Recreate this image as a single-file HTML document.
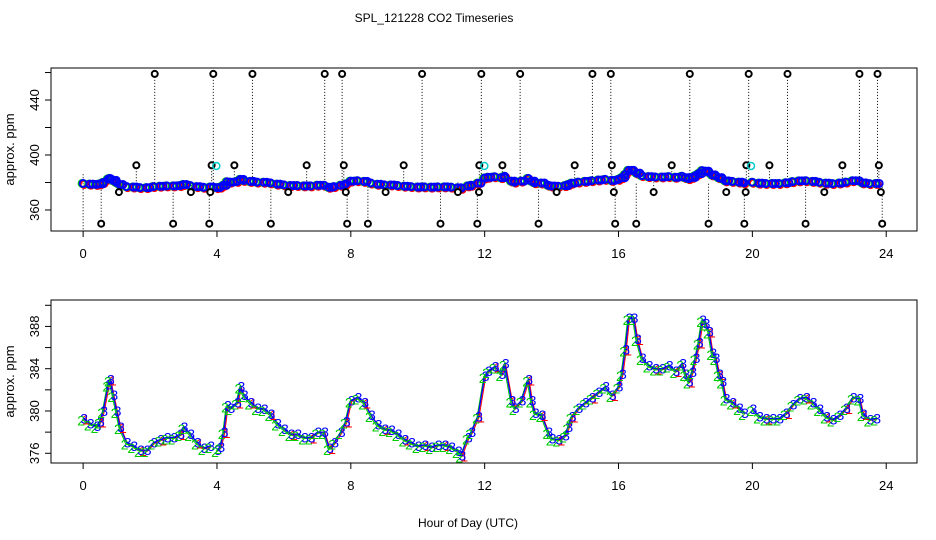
<!DOCTYPE html>
<html><head><meta charset="utf-8"><style>
body{margin:0;background:#fff}
svg{display:block;font-family:"Liberation Sans",Helvetica,Arial,sans-serif}
</style></head><body>
<svg id="c" width="936" height="540" viewBox="0 0 936 540" xmlns="http://www.w3.org/2000/svg">
<text x="434" y="22" font-size="12" text-anchor="middle">SPL_121228  CO2 Timeseries</text>
<text x="468" y="527" font-size="12" text-anchor="middle">Hour of Day (UTC)</text>
<g id="top"></g>
<g id="bot"></g>
</svg>
<script>
const hours=[0,0.2,0.4,0.5,0.6,0.75,0.8,0.9,1.0,1.1,1.3,1.5,1.7,1.9,2.1,2.3,2.5,2.7,2.9,3.0,3.2,3.4,3.6,3.8,null,4.0,4.1,4.2,4.3,4.4,4.6,4.7,4.8,5.0,5.2,5.4,5.6,5.8,6.0,6.2,6.4,6.6,6.8,7.0,7.2,7.35,7.5,7.7,7.85,8.0,8.2,8.4,8.6,8.8,9.0,9.2,9.4,9.6,9.8,10.0,10.2,10.4,10.6,10.8,11.0,11.2,11.3,11.5,11.6,11.8,12.0,12.1,12.3,12.5,12.6,12.8,12.9,13.1,13.3,13.4,13.5,13.7,13.9,14.0,14.2,14.4,14.5,14.6,14.8,15.0,15.2,15.4,15.6,15.8,16.0,16.1,16.2,16.3,16.45,16.55,16.7,16.9,17.1,17.3,17.5,17.7,17.9,18.0,18.1,18.2,18.3,18.4,18.5,18.6,18.7,18.8,18.9,19.0,19.1,19.2,19.4,19.6,19.75,null,20.0,20.2,20.4,20.6,20.8,21.0,21.2,21.4,21.6,21.8,22.0,22.2,22.4,22.6,22.8,23.0,23.2,23.3,23.5,23.7];
const co2=[379.3,378.8,378.6,379.0,380,382.5,383,381.5,380,378.5,377,376.7,376.3,376.3,377,377.3,377.5,377.5,377.8,378.5,377.8,377,376.5,376.7,null,376.3,376.6,378,380.5,380.3,380.8,382.3,381.5,380.8,380.3,380.2,379.7,378.8,378.3,377.8,377.8,377.5,377.5,378,378,376.5,377,378,379,381,381.3,380.8,379.6,378.7,378.3,378.2,377.8,377.3,377,376.7,376.8,376.6,376.8,376.8,376.6,376.2,375.8,377.5,378,379.5,383.3,383.8,384.2,383.5,384.5,381,380.3,381,383,381,379.8,379.6,378,377.4,377.3,377.7,378.5,379.5,380.3,380.8,381.3,381.8,382.3,381.5,382.3,383.5,385.8,388.8,388.8,386.8,385,384.3,384,384,384.3,383.8,384.5,383.5,382.8,383.7,385,386.5,388.6,388.3,387.5,385.5,385,383.5,382.8,381.2,380.8,380.3,379.8,null,380.2,379.5,379.3,379.3,379.3,379.8,380.6,381.2,381.3,380.8,380.2,379.5,379.2,379.6,380.3,381.3,381.2,379.7,379.2,379.3];
const outHighHours=[2.14,3.89,5.06,7.22,7.74,10.13,11.9,13.06,15.22,15.77,18.13,19.89,21.05,23.2,23.74];
const outMidHours=[1.59,3.84,4.52,6.68,7.79,9.58,11.84,12.53,14.69,15.8,17.59,19.82,20.51,22.69,23.78];
const outLowHours=[1.07,3.22,3.8,6.13,7.85,9.04,11.2,11.83,14.15,15.86,17.05,19.22,19.8,22.15,23.84];
const outMinHours=[0.54,2.69,3.77,5.61,7.89,8.51,10.68,11.78,13.61,15.9,16.53,18.69,19.76,21.59,23.88];
const outLevels=[459,392.5,373,350];
const cyanHours=[3.98,11.99,19.96];
const cyanValue=392;
const xTicks=[0,4,8,12,16,20,24];
const topYTicks=[360,380,400,420,440,460];
const topYLabels=[360,400,440];
const botYTicks=[376,378,380,382,384,386,388,390];
const botYLabels=[376,380,384,388];

const NS='http://www.w3.org/2000/svg';
function mk(p,tag,at){const e=document.createElementNS(NS,tag);for(const k in at)e.setAttribute(k,at[k]);p.appendChild(e);return e;}
const L=51,R=917;
const xs=h=>L+(h+0.96)/(24.92+0.96)*(R-L);
function panel(g,top,bot,y0,y1,yt,yl,name){
  const ys=v=>bot-(v-y0)/(y1-y0)*(bot-top);
  const box=mk(g,'rect',{x:L,y:top,width:R-L,height:bot-top,fill:'none',stroke:'#000','stroke-width':1});
  
  mk(g,'line',{x1:xs(0),x2:xs(24),y1:bot,y2:bot,stroke:'#000'});
  xTicks.forEach(t=>{
    mk(g,'line',{x1:xs(t),x2:xs(t),y1:bot,y2:bot+6,stroke:'#000'});
    const tx=mk(g,'text',{x:xs(t),y:bot+27,'font-size':13,'text-anchor':'middle'});tx.textContent=t;
    
  });
  yt.forEach(t=>mk(g,'line',{x1:L-6,x2:L,y1:ys(t),y2:ys(t),stroke:'#000'}));
  yl.forEach(t=>{
    const tx=mk(g,'text',{x:0,y:0,'font-size':13,'text-anchor':'middle',transform:`translate(${L-12},${ys(t)}) rotate(-90)`});tx.textContent=t;
    
  });
  const at=mk(g,'text',{x:0,y:0,'font-size':13,'text-anchor':'middle',transform:`translate(14,${(top+bot)/2}) rotate(-90)`});at.textContent='approx. ppm';
  
  return ys;
}
function pathOf(ys,dx,dy){let d='',pen=false;for(let i=0;i<hours.length;i++){if(hours[i]===null){pen=false;continue;}d+=(pen?'L':'M')+(xs(hours[i])+dx).toFixed(1)+','+(ys(co2[i])+dy).toFixed(1);pen=true;}return d;}
// top panel
const gt=document.getElementById('top');
const yt=panel(gt,68,231,344.7,463.3,topYTicks,topYLabels,'top');
const outs=[outHighHours,outMidHours,outLowHours,outMinHours];
outs.forEach((arr,k)=>arr.forEach(h=>{
  const yo=yt(outLevels[k]),ye=yt(380);
  mk(gt,'line',{x1:xs(h),x2:xs(h),y1:yo,y2:ye,stroke:'#000','stroke-width':1,'stroke-dasharray':'1,2'});
}));
mk(gt,'line',{x1:xs(0),x2:xs(0),y1:yt(386),y2:231,stroke:'#000','stroke-dasharray':'1,2'});
hours.forEach((h,i)=>{if(h===null)return;
  const c1=mk(gt,'circle',{cx:xs(h)+1,cy:yt(co2[i])+1,r:3.5,fill:'none',stroke:'#f00','stroke-width':2});
  
  const c2=mk(gt,'circle',{cx:xs(h)-1,cy:yt(co2[i]),r:3.5,fill:'none',stroke:'#0c0','stroke-width':2});
  
});
hours.forEach((h,i)=>{if(h===null)return;
  const c=mk(gt,'circle',{cx:xs(h),cy:yt(co2[i]),r:3.5,fill:'none',stroke:'#00f','stroke-width':2});
  
  if(i%2){const c3=mk(gt,'circle',{cx:xs(h)+3,cy:yt(co2[i]),r:3.5,fill:'none',stroke:'#00f','stroke-width':2});
  }
});
outs.forEach((arr,k)=>arr.forEach(h=>{
  const c=mk(gt,'circle',{cx:xs(h),cy:yt(outLevels[k]),r:3,fill:'#fff',stroke:'#000','stroke-width':2});
  
}));
cyanHours.forEach(h=>{
  const c=mk(gt,'circle',{cx:xs(h),cy:yt(cyanValue),r:3.5,fill:'none',stroke:'#0cc','stroke-width':1.5});
  
});
// bottom panel
const gb=document.getElementById('bot');
const yb=panel(gb,300,463,375.08,390.5,botYTicks,botYLabels,'bottom');
const lr=mk(gb,'path',{d:pathOf(yb,1,1),fill:'none',stroke:'#f00','stroke-width':1});

const lg=mk(gb,'path',{d:pathOf(yb,-1,1),fill:'none',stroke:'#0c0','stroke-width':1});

const lb=mk(gb,'path',{d:pathOf(yb,0,0),fill:'none',stroke:'#00f','stroke-width':1.3});

hours.forEach((h,i)=>{if(h===null)return;
  if(i%3===0){const t=mk(gb,'text',{x:xs(h)+3,y:yb(co2[i])+6,'font-size':14,fill:'#f00','text-anchor':'middle'});t.textContent='1';
  }
  const t2=mk(gb,'text',{x:xs(h)-2,y:yb(co2[i])+7,'font-size':14,fill:'#0c0','text-anchor':'middle'});t2.textContent='2';
  
  const t3=mk(gb,'text',{x:xs(h)+1,y:yb(co2[i])+5,'font-size':14,fill:'#00f','text-anchor':'middle'});t3.textContent='3';
  
});
</script>
</body></html>
